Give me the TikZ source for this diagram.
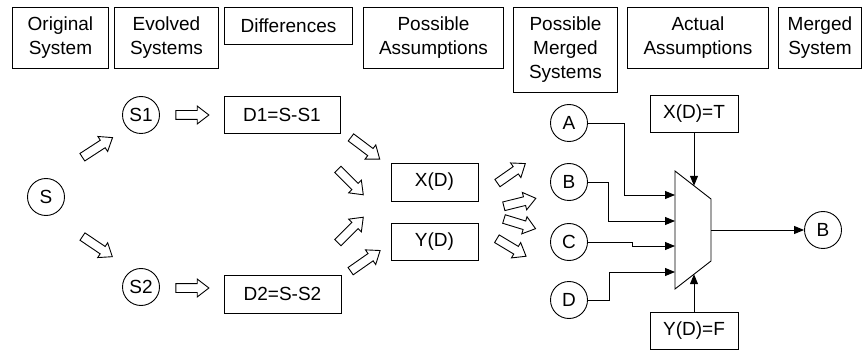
\documentclass[tikz,border=0pt]{standalone}
\usepackage{fontspec}
\setmainfont{Liberation Sans}
\usetikzlibrary{shapes.arrows,arrows.meta}

\tikzset{
  lbl/.style={font=\fontsize{19}{24}\selectfont},
  hdr/.style={lbl, draw, line width=0.9pt, align=center, inner sep=0pt, anchor=north west},
  box/.style={lbl, draw, line width=0.9pt, inner sep=0pt},
  state/.style={lbl, draw, circle, line width=0.9pt, inner sep=0pt, minimum size=37pt},
  fat/.style={draw, fill=white, line width=0.9pt, single arrow, inner sep=0pt,
    inner ysep=4pt, single arrow head extend=4.5pt, single arrow tip angle=75},
  conn/.style={line width=0.9pt, -{Triangle[length=10pt,width=8pt]}},
}

\begin{document}
\begin{tikzpicture}[x=1pt,y=-1pt]
\useasboundingbox (0,0) rectangle (863,350);

% column headings
\node[hdr, minimum width=96pt,  minimum height=61pt] (h1) at (12,7)  {Original\\System};
\node[hdr, minimum width=104pt, minimum height=61pt] (h2) at (114,7) {Evolved\\Systems};
\node[hdr, minimum width=128pt, minimum height=37pt] (h3) at (224,7) {Differences};
\node[hdr, minimum width=140pt, minimum height=61pt] (h4) at (363,7) {Possible\\Assumptions};
\node[hdr, minimum width=104pt, minimum height=85pt] (h5) at (513,7) {Possible\\Merged\\Systems};
\node[hdr, minimum width=141pt, minimum height=61pt] (h6) at (627,7) {Actual\\Assumptions};
\node[hdr, minimum width=83pt,  minimum height=61pt] (h7) at (778,7) {Merged\\System};

% systems and differences
\node[state] (S)  at (46,197)  {S};
\node[state] (S1) at (141,115) {S1};
\node[state] (S2) at (141,287) {S2};
\node[box, minimum width=116pt, minimum height=37pt] (D1) at (282,114.5) {D1=S-S1};
\node[box, minimum width=117pt, minimum height=38pt] (D2) at (282.5,294) {D2=S-S2};
\node[box, minimum width=87pt, minimum height=38pt] (X) at (434.5,182) {X(D)};
\node[box, minimum width=87pt, minimum height=37pt] (Y) at (434.5,241.5) {Y(D)};

% block arrows between the stages
\node[fat, minimum height=36pt, rotate=33]  (f1) at (95,149)  {};
\node[fat, minimum height=36pt, rotate=-34] (f2) at (95,245)  {};
\node[fat, minimum height=33pt]             (f3) at (189.5,115) {};
\node[fat, minimum height=33pt]             (f4) at (189.5,288) {};
\node[fat, minimum height=36pt, rotate=-37] (f5) at (363,146.5) {};
\node[fat, minimum height=36pt, rotate=-45] (f6) at (348.5,180) {};
\node[fat, minimum height=36pt, rotate=45]  (f7) at (348.5,232) {};
\node[fat, minimum height=36pt, rotate=35]  (f8) at (363,262.5) {};
\node[fat, minimum height=34pt, rotate=35]  (f9) at (509,175) {};
\node[fat, minimum height=33pt, rotate=14]  (f10) at (517,203) {};
\node[fat, minimum height=33pt, rotate=-17] (f11) at (517,223) {};
\node[fat, minimum height=34pt, rotate=-31] (f12) at (509,246) {};

% candidate merged systems
\node[state] (A) at (569,123) {A};
\node[state] (B) at (569,182) {B};
\node[state] (C) at (569,242) {C};
\node[state] (D) at (569,300) {D};

% selector
\draw[line width=0.9pt] (675,171) -- (711,199) -- (711,261) -- (675,289) -- cycle;
\coordinate (inA) at (675,195);
\coordinate (inB) at (675,221);
\coordinate (inC) at (675,246);
\coordinate (inD) at (675,272);
\coordinate (selT) at (694,185.8);
\coordinate (selB) at (694,274.2);
\coordinate (out) at (711,230);

\node[box, minimum width=88pt, minimum height=37pt] (XT) at (694,113.5) {X(D)=T};
\node[box, minimum width=88pt, minimum height=37pt] (YF) at (694,330.5) {Y(D)=F};
\node[state] (Bo) at (823,230) {B};

\draw[conn] (A.east) -- ++(36,0) |- (inA);
\draw[conn] (B.east) -- ++(20,0) |- (inB);
\draw[conn] (C.east) -- ++(44,0) |- (inC);
\draw[conn] (D.east) -- ++(21,0) |- (inD);
\draw[conn] (XT.south) -- (selT);
\draw[conn] (YF.north) -- (selB);
\draw[conn] (out) -- (Bo.west);
\end{tikzpicture}
\end{document}
